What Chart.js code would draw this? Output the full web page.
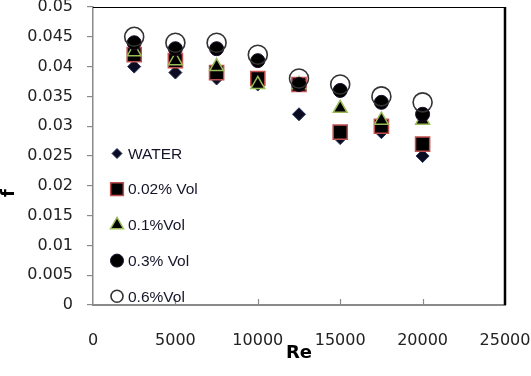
<!DOCTYPE html>
<html><head><meta charset="utf-8">
<script src="https://cdn.jsdelivr.net/npm/chart.js@4.4.1/dist/chart.umd.min.js"></script>
<style>html,body{margin:0;padding:0;background:#fff;}</style>
</head><body>
<canvas id="c" width="531" height="376"></canvas>
<script>
const reynolds = [2500, 5000, 7500, 10000, 12500, 15000, 17500, 20000];
const water   = [0.040, 0.039, 0.038, 0.037, 0.032, 0.028, 0.029, 0.025];
const vol002  = [0.042, 0.041, 0.039, 0.038, 0.037, 0.029, 0.030, 0.027];
const vol01   = [0.0425, 0.041, 0.040, 0.037, 0.037, 0.033, 0.031, 0.031];
const vol03   = [0.044, 0.043, 0.043, 0.041, 0.037, 0.036, 0.034, 0.032];
const vol06   = [0.045, 0.044, 0.044, 0.042, 0.038, 0.037, 0.035, 0.034];
const seriesNames = ['WATER', '0.02% Vol', '0.1%Vol', '0.3% Vol', '0.6%Vol'];
const xTicks = [0, 5000, 10000, 15000, 20000, 25000];
const yTicks = [0, 0.005, 0.01, 0.015, 0.02, 0.025, 0.03, 0.035, 0.04, 0.045, 0.05];
const xTitle = 'Re';
const yTitle = 'f';

const toPts = arr => arr.map((v, i) => ({x: reynolds[i], y: v}));

const styles = [
  {pointStyle: 'rectRot', radius: 6.5, bg: '#0b0b22', border: '#22335a', bw: 1, legendR: 5},
  {pointStyle: 'rect', radius: 10, bg: '#000000', border: '#c0504d', bw: 1.5, legendR: 9},
  {pointStyle: 'triangle', radius: 8, bg: '#000000', border: '#9bbb59', bw: 1.5, legendR: 7.5},
  {pointStyle: 'circle', radius: 7, bg: '#000000', border: '#1a0d2a', bw: 1, legendR: 6.5},
  {pointStyle: 'circle', radius: 9.5, bg: 'rgba(0,0,0,0)', border: '#333333', bw: 1.6, legendR: 6}
];
const seriesData = [water, vol002, vol01, vol03, vol06];

const datasets = seriesData.map((arr, i) => ({
  label: seriesNames[i],
  data: toPts(arr),
  showLine: false,
  pointStyle: styles[i].pointStyle,
  pointRadius: styles[i].radius,
  pointHoverRadius: styles[i].radius,
  backgroundColor: styles[i].bg,
  borderColor: styles[i].border,
  pointBorderWidth: styles[i].bw,
  borderWidth: styles[i].bw,
  order: 5 - i
}));

function drawMarker(ctx, style, r, x, y) {
  ctx.beginPath();
  if (style === 'rectRot') {
    ctx.moveTo(x - r, y); ctx.lineTo(x, y - r); ctx.lineTo(x + r, y); ctx.lineTo(x, y + r); ctx.closePath();
  } else if (style === 'rect') {
    const s = Math.SQRT1_2 * r;
    ctx.rect(x - s, y - s, 2 * s, 2 * s);
  } else if (style === 'triangle') {
    const h = r * 1.5, w = r * Math.sqrt(3);
    ctx.moveTo(x, y - r); ctx.lineTo(x + w / 2, y + h - r); ctx.lineTo(x - w / 2, y + h - r); ctx.closePath();
  } else {
    ctx.arc(x, y, r, 0, Math.PI * 2);
  }
  ctx.fill();
  ctx.stroke();
}

const decor = {
  id: 'decor',
  afterDraw(chart) {
    const ctx = chart.ctx, ca = chart.chartArea;
    ctx.save();
    ctx.strokeStyle = '#000';
    ctx.lineWidth = 1;
    ctx.beginPath(); ctx.moveTo(ca.left, ca.top + 0.5); ctx.lineTo(ca.right, ca.top + 0.5); ctx.stroke();
    ctx.lineWidth = 2.5;
    ctx.beginPath(); ctx.moveTo(ca.right, ca.top); ctx.lineTo(ca.right, ca.bottom); ctx.stroke();
    ctx.strokeStyle = '#8a8a8a'; ctx.lineWidth = 1.2;
    xTicks.forEach(v => {
      if (v === 0 || v === 25000) return;
      const px = Math.round(chart.scales.x.getPixelForValue(v)) + 0.5;
      ctx.beginPath(); ctx.moveTo(px, ca.bottom); ctx.lineTo(px, ca.bottom - 6); ctx.stroke();
    });
    ctx.font = '15.5px "Liberation Sans", Arial, sans-serif';
    ctx.textAlign = 'left'; ctx.textBaseline = 'middle';
    seriesNames.forEach((name, i) => {
      const y = 153.5 + i * 35.7;
      const st = styles[i];
      ctx.fillStyle = st.bg; ctx.strokeStyle = st.border; ctx.lineWidth = st.bw;
      drawMarker(ctx, st.pointStyle, st.legendR, 117, y);
      ctx.fillStyle = '#15152a';
      ctx.fillText(name, 128, y + 1);
    });
    ctx.translate(9, 193);
    ctx.rotate(-Math.PI / 2);
    ctx.font = 'bold 18px "DejaVu Sans", sans-serif';
    ctx.textAlign = 'center'; ctx.textBaseline = 'middle';
    ctx.fillStyle = '#000';
    ctx.fillText(yTitle, 0, 0);
    ctx.restore();
  }
};

Chart.defaults.font.family = '"DejaVu Sans", sans-serif';

new Chart(document.getElementById('c'), {
  type: 'scatter',
  data: {datasets},
  options: {
    responsive: false,
    animation: false,
    devicePixelRatio: 1,
    layout: {autoPadding: false, padding: {top: 7, right: 26, left: 0, bottom: 0}},
    plugins: {legend: {display: false}, tooltip: {enabled: false}},
    scales: {
      x: {
        type: 'linear', position: 'bottom', min: 0, max: 25000,
        afterBuildTicks: s => { s.ticks = xTicks.map(v => ({value: v})); },
        ticks: {font: {size: 16}, color: '#222', padding: 26, maxRotation: 0,
                callback: v => String(v)},
        grid: {display: false, drawTicks: false},
        border: {display: true, color: '#8a8a8a', width: 2},
        title: {display: true, text: xTitle, font: {size: 18, weight: 'bold'}, color: '#000',
                padding: {top: 0, bottom: 12}},
        afterFit: s => { s.height = 71; s.paddingLeft = 0; s.paddingRight = 0; }
      },
      y: {
        min: 0, max: 0.05,
        afterBuildTicks: s => { s.ticks = yTicks.map(v => ({value: v})); },
        ticks: {font: {size: 16}, color: '#222', padding: 14,
                callback: v => String(parseFloat(Number(v).toFixed(3)))},
        grid: {drawOnChartArea: false, drawTicks: true, tickLength: 6, color: '#8a8a8a', lineWidth: 1.2},
        border: {display: true, color: '#8a8a8a', width: 1.5},
        afterFit: s => { s.width = 93; s.paddingTop = 0; s.paddingBottom = 0; }
      }
    }
  },
  plugins: [decor]
});
</script>
</body></html>
